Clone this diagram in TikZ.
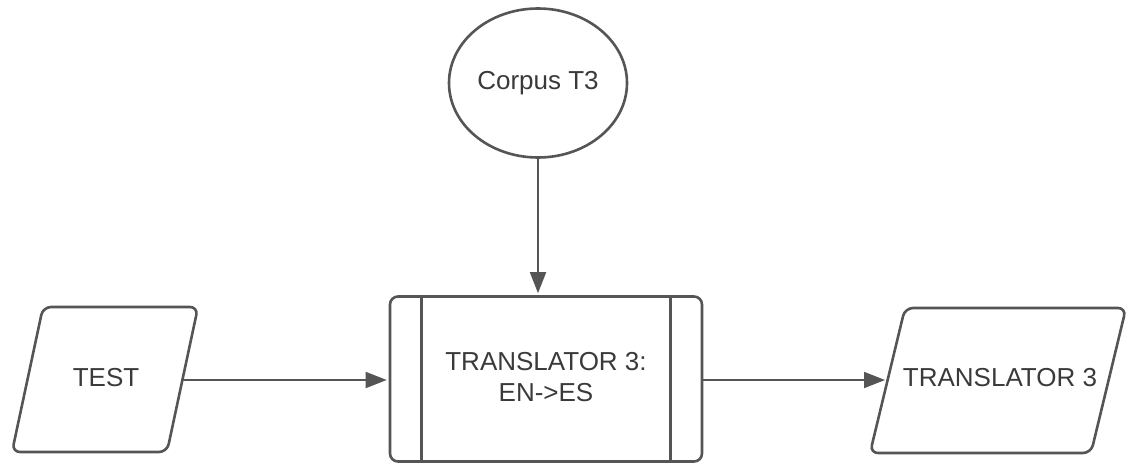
\documentclass[tikz,border=0pt]{standalone}
\usepackage{fontspec}
\setmainfont{Liberation Sans}
\usetikzlibrary{shapes.geometric,calc,arrows.meta}
\definecolor{linegray}{HTML}{555555}
\definecolor{textgray}{HTML}{3A3A3A}
\tikzset{
  shapeline/.style={draw=linegray, line width=2.6pt, rounded corners=8pt},
  conn/.style={draw=linegray, line width=1.8pt, shorten >=2pt, -{Triangle[length=21pt,width=16pt]}},
  lbl/.style={text=textgray, font=\fontsize{26}{31}\selectfont, align=center, inner sep=0pt}
}
\begin{document}
\begin{tikzpicture}[x=1pt,y=-1pt]
\useasboundingbox (0,0) rectangle (1129,463);
% Corpus ellipse
\node[draw=linegray, line width=2.6pt, ellipse, minimum width=178pt, minimum height=149pt, lbl, inner sep=0pt] (corpus) at (538,83) {Corpus T3};
% Predefined process box
\node[shapeline, minimum width=312pt, minimum height=165pt, inner sep=0pt] (trans) at (546,379) {};
\node[lbl] (translbl) at (546,377) {TRANSLATOR 3:\\EN->ES};
\draw[draw=linegray, line width=2.6pt] ($(trans.north west)+(33,0)$) -- ($(trans.south west)+(33,0)$);
\draw[draw=linegray, line width=2.6pt] ($(trans.north east)+(-33,0)$) -- ($(trans.south east)+(-33,0)$);
% TEST parallelogram
\draw[shapeline] (43,307) -- (198,307) -- (167,452) -- (12,452) -- cycle;
\node[lbl] (test) at (106,378) {TEST};
\coordinate (testout) at (182,380);
% Output parallelogram
\draw[shapeline] (905,308) -- (1126,308) -- (1091,453) -- (870,453) -- cycle;
\node[lbl] (out) at (1000,378) {TRANSLATOR 3};
\coordinate (outin) at (887,380);
% Connectors
\draw[conn] (corpus.south) -- (corpus.south |- trans.north);
\draw[conn] (testout) -- (testout -| trans.west);
\draw[conn] (trans.east |- outin) -- (outin);
\end{tikzpicture}
\end{document}
